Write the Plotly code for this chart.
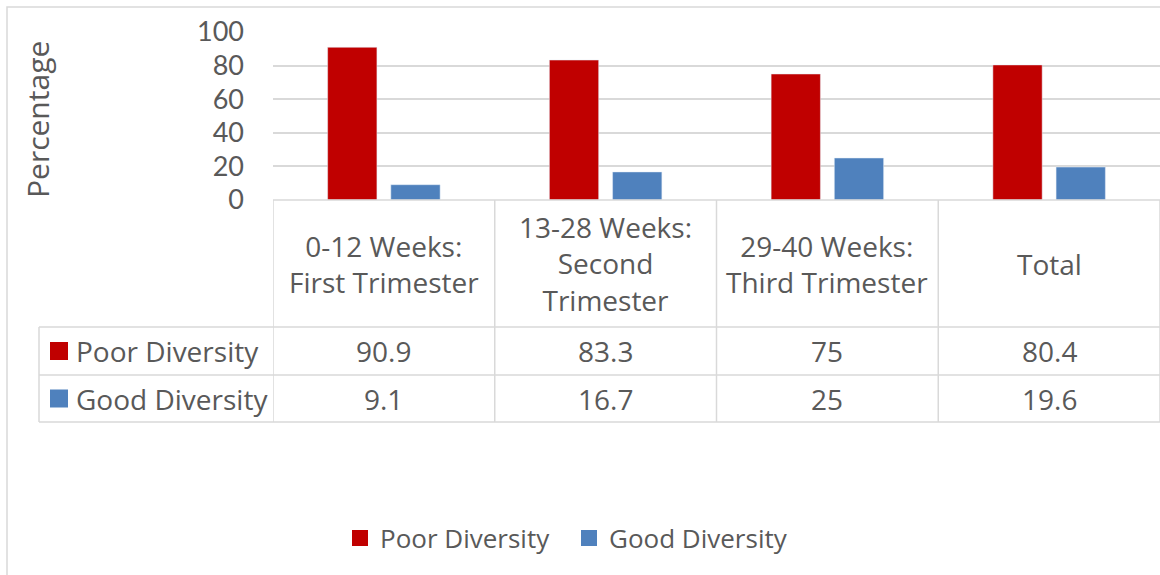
import plotly.graph_objects as go

W, H = 1160, 575

categories = ["0-12 Weeks:<br>First Trimester", "13-28 Weeks:<br>Second<br>Trimester",
              "29-40 Weeks:<br>Third Trimester", "Total"]
series_names = ["Poor Diversity", "Good Diversity"]
poor_values = [90.9, 83.3, 75, 80.4]
good_values = [9.1, 16.7, 25, 19.6]
y_ticks = [0, 20, 40, 60, 80, 100]

RED = "#C00000"
BLUE = "#4F81BD"
TEXT = "#595959"
GRID = "#D9D9D9"
FONT = "Open Sans"


def px(x):
    return x / W


def py(y):
    return 1 - y / H


fig = go.Figure()
series = [(series_names[0], poor_values, RED, "legend"),
          (series_names[1], good_values, BLUE, "legend2")]
for name, vals, color, leg in series:
    fig.add_trace(go.Bar(x=categories, y=vals, name=name, marker_color=color,
                         showlegend=False))
    # legend-only entry so the key square matches the Excel size
    fig.add_trace(go.Scatter(x=[None], y=[None], mode="markers", name=name, legend=leg,
                             marker=dict(symbol="square", size=17, color=color)))

# table grid (pixel layout of the data table under the plot)
line = dict(color=GRID, width=1.5)
table_top, header_bottom, row1_bottom, row2_bottom = 200, 327, 375, 422
table_left, plot_left = 39, 273
shapes = [
    dict(type="rect", xref="paper", yref="paper", x0=px(7), x1=px(W + 20),
         y0=py(H + 20), y1=py(7), line=line, layer="below"),
    dict(type="line", xref="x", yref="paper", x0=-0.5, x1=len(categories) - 0.5,
         y0=py(table_top), y1=py(table_top), line=line),
]
for yy in [header_bottom, row1_bottom, row2_bottom]:
    shapes.append(dict(type="line", xref="paper", yref="paper", x0=px(table_left), x1=1,
                       y0=py(yy), y1=py(yy), line=line))
shapes.append(dict(type="line", xref="paper", yref="paper", x0=px(table_left), x1=px(table_left),
                   y0=py(row2_bottom), y1=py(header_bottom), line=line))
for i in range(len(categories) + 1):
    shapes.append(dict(type="line", xref="x", yref="paper", x0=i - 0.5, x1=i - 0.5,
                       y0=py(row2_bottom), y1=py(table_top), line=line))

annotations = [
    dict(text="Percentage", textangle=-90, xref="paper", yref="paper", x=px(37), y=py(120),
         xanchor="center", yanchor="middle", showarrow=False, font=dict(size=30, color=TEXT)),
]
for cat in categories:
    annotations.append(dict(text=cat, xref="x", yref="paper", x=cat, y=py(264),
                            xanchor="center", yanchor="middle",
                            showarrow=False, font=dict(size=28, color=TEXT)))

row_centers = [(header_bottom + row1_bottom) / 2, (row1_bottom + row2_bottom) / 2]
for (name, vals, color, _), yc in zip(series, row_centers):
    shapes.append(dict(type="rect", xref="paper", yref="paper", x0=px(50), x1=px(68),
                       y0=py(yc + 9), y1=py(yc - 9), fillcolor=color, line=dict(width=0)))
    annotations.append(dict(text=name, xref="paper", yref="paper", x=px(74), y=py(yc),
                            xanchor="left", yanchor="middle",
                            showarrow=False, font=dict(size=28, color=TEXT)))
    for cat, v in zip(categories, vals):
        annotations.append(dict(text=f"{v:g}", xref="x", yref="paper", x=cat, y=py(yc),
                                xanchor="center", yanchor="middle",
                                showarrow=False, font=dict(size=28, color=TEXT)))

legend_style = dict(xref="container", yref="container", xanchor="left", yanchor="middle",
                    y=py(538), font=dict(size=26, color=TEXT), itemsizing="trace",
                    bgcolor="rgba(0,0,0,0)")
fig.update_layout(
    width=W, height=H,
    margin=dict(l=0, r=0, t=0, b=0, autoexpand=False),
    paper_bgcolor="white", plot_bgcolor="white",
    font=dict(family=FONT, color=TEXT),
    barmode="group", bargap=0.43, bargroupgap=0.22,
    shapes=shapes, annotations=annotations,
    legend=dict(x=px(340), **legend_style),
    legend2=dict(x=px(569), **legend_style),
)
fig.update_xaxes(domain=[px(plot_left), 1], showticklabels=False, showgrid=False,
                 range=[-0.5, len(categories) - 0.5], automargin=False)
# Lato has a tighter line box, so the stacked tick labels don't collide
fig.update_yaxes(domain=[py(table_top), py(32)], range=[0, 100], tickvals=y_ticks,
                 gridcolor=GRID, gridwidth=1.5, zeroline=False, ticklabelstandoff=28,
                 tickfont=dict(family="Lato", size=27, color=TEXT), automargin=False)

fig.write_html("out.html", config={"displayModeBar": False},
               post_script="document.body.style.margin='0';")
